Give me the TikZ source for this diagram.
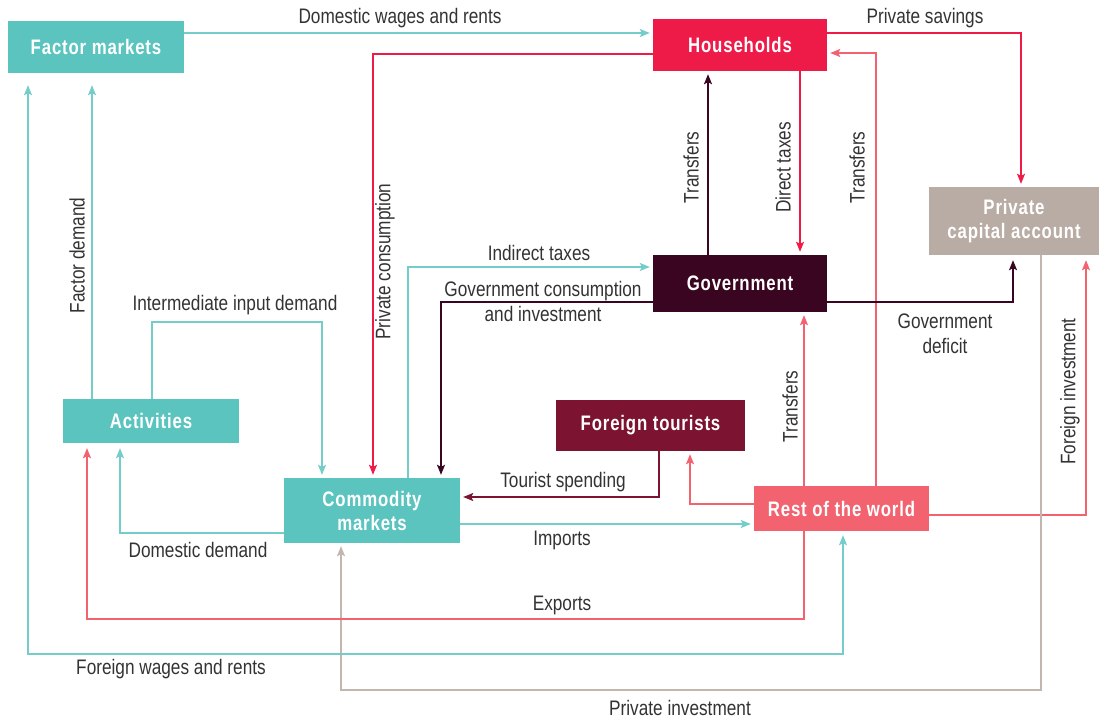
\documentclass[tikz,border=0pt]{standalone}
\usepackage{fontspec}
\setmainfont{Liberation Sans}[FakeStretch=0.82]
\newfontfamily\boxfont{Liberation Sans}[FakeStretch=0.8,LetterSpace=4.0]
\usetikzlibrary{arrows.meta}
\definecolor{tealc}{HTML}{5BC4BF}
\definecolor{teall}{HTML}{74CDC9}
\definecolor{crim}{HTML}{EE1B48}
\definecolor{tanc}{HTML}{B9ACA4}
\definecolor{tanl}{HTML}{C2B6AF}
\definecolor{govc}{HTML}{3A0520}
\definecolor{ftc}{HTML}{7C1331}
\definecolor{rowc}{HTML}{F2636F}
\definecolor{txt}{HTML}{333333}
\tikzset{
  box/.style={rectangle, inner sep=0pt, text=white, font=\boxfont\bfseries\fontsize{21}{24}\selectfont, align=center},
  lab/.style={text=txt, font=\fontsize{21}{25}\selectfont, align=center, inner sep=0pt, yshift=-1.5pt},
  conn/.style={line width=1.3pt, -{Stealth[length=10pt,width=8pt,inset=2pt]}, shorten >=3pt},
  tl/.style={conn, draw=teall},
  cl/.style={conn, draw=crim},
  rl/.style={conn, draw=rowc},
  gl/.style={conn, draw=govc},
  fl/.style={conn, draw=ftc},
  nl/.style={conn, draw=tanl},
}
\begin{document}
\begin{tikzpicture}[x=1pt,y=-1pt]
\useasboundingbox (0,0) rectangle (1099,719);
% boxes
\node[box, fill=tealc, minimum width=176pt, minimum height=52pt] (fm) at (96,47) {Factor markets};
\node[box, fill=crim, minimum width=174pt, minimum height=52pt] (hh) at (740,45) {Households};
\node[box, fill=tanc, minimum width=170pt, minimum height=68pt] (pca) at (1014,221) {Private\\capital account};
\node[box, fill=govc, minimum width=174pt, minimum height=57pt] (gov) at (740,283.5) {Government};
\node[box, fill=tealc, minimum width=176pt, minimum height=44pt] (act) at (151,421) {Activities};
\node[box, fill=ftc, minimum width=189pt, minimum height=51pt] (ft) at (650.5,425.5) {Foreign tourists};
\node[box, fill=tealc, minimum width=176pt, minimum height=65pt] (cm) at (372,510.5) {Commodity\\markets};
\node[box, fill=rowc, minimum width=175pt, minimum height=45pt] (row) at (841.5,508.5) {Rest of the world};
% connectors
\draw[tl] (fm.east |- 0,33) -- (hh.west |- 0,33);
\draw[cl] (hh.east |- 0,33) -| (1021,0 |- pca.north);
\draw[cl] (hh.west |- 0,54) -| (373,0 |- cm.north);
\draw[gl] (708,0 |- gov.north) -- (708,0 |- hh.south);
\draw[cl] (800,0 |- hh.south) -- (800,0 |- gov.north);
\draw[rl] (876,0 |- row.north) |- (hh.east |- 0,53);
\draw[tl] (408,0 |- cm.north) |- (gov.west |- 0,267);
\draw[gl] (gov.west |- 0,302) -| (441,0 |- cm.north);
\draw[gl, shorten >=5pt] (gov.east |- 0,302) -| (1013,0 |- pca.south);
\draw[rl] (804,0 |- row.north) -- (804,0 |- gov.south);
\draw[rl, shorten >=5pt] (row.east |- 0,515) -| (1086,0 |- pca.south);
\coordinate (pi1) at (1041,690);
\draw[nl] (1041,0 |- pca.south) -- (pi1) -| (341,0 |- cm.south);
\draw[fl] (659,0 |- ft.south) |- (cm.east |- 0,497);
\draw[rl] (row.west |- 0,504) -| (690,0 |- ft.south);
\draw[tl] (cm.east |- 0,524) -- (row.west |- 0,524);
\coordinate (ii1) at (152,322);
\draw[tl] (152,0 |- act.north) -- (ii1) -| (322,0 |- cm.north);
\draw[tl, shorten >=12pt] (92,0 |- act.north) -- (92,0 |- fm.south);
\draw[tl, shorten >=5pt] (cm.west |- 0,533) -| (120,0 |- act.south);
\coordinate (ex1) at (804,619);
\draw[rl, shorten >=5pt] (804,0 |- row.south) -- (ex1) -| (87,0 |- act.south);
\coordinate (fw1) at (28,654);
\draw[tl, {Stealth[length=10pt,width=8pt,inset=2pt]}-{Stealth[length=10pt,width=8pt,inset=2pt]}, shorten <=12pt, shorten >=4pt] (28,0 |- fm.south) -- (fw1) -| (843,0 |- row.south);
% labels
\node[lab] (l1) at (400,17) {Domestic wages and rents};
\node[lab] (l2) at (925,17) {Private savings};
\node[lab, rotate=90] (l3) at (385,260) {Private consumption};
\node[lab, rotate=90] (l4) at (691,166) {Transfers};
\node[lab, rotate=90] (l5) at (783,166) {Direct taxes};
\node[lab, rotate=90] (l6) at (857,166) {Transfers};
\node[lab] (l7) at (539,251) {Indirect taxes};
\node[lab] (l8) at (543,300) {Government consumption\\and investment};
\node[lab] (l9) at (945,332) {Government\\deficit};
\node[lab, rotate=90] (l10) at (790,405) {Transfers};
\node[lab, rotate=90] (l11) at (1070,390) {Foreign investment};
\node[lab, rotate=90] (l12) at (77,254) {Factor demand};
\node[lab] (l13) at (235,304) {Intermediate input demand};
\node[lab] (l14) at (563,481) {Tourist spending};
\node[lab] (l15) at (562,539) {Imports};
\node[lab] (l16) at (198,548) {Domestic demand};
\node[lab] (l17) at (562,604) {Exports};
\node[lab] (l18) at (171,668) {Foreign wages and rents};
\node[lab] (l19) at (680,706) {Private investment};
\end{tikzpicture}
\end{document}
